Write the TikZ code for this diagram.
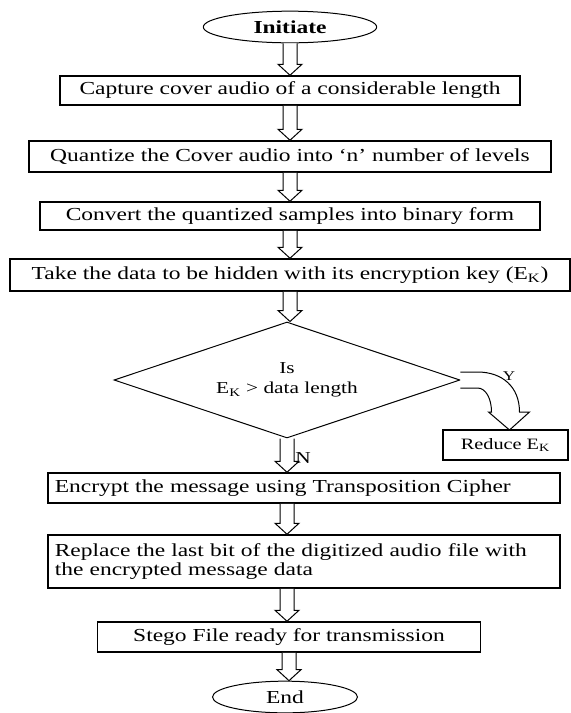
\documentclass[tikz,border=0pt]{standalone}
\usepackage{fontspec}
\setmainfont{Liberation Serif}[FakeStretch=1.28]
\usetikzlibrary{calc,shapes.geometric,positioning}

\newcommand{\ek}{E\textsubscript{K}}

\tikzset{
	blockflow/.style={draw,line width=0.6pt,fill=white,
		to path={let \p1=(\tikztostart), \p2=(\tikztotarget) in
			(\x1-4.2pt,\y1) -- (\x1-4.2pt,\y2+6.6pt) -- (\x1-7.2pt,\y2+6.6pt) -- (\x1,\y2)
			-- (\x1+7.2pt,\y2+6.6pt) -- (\x1+4.2pt,\y2+6.6pt) -- (\x1+4.2pt,\y1)}}
}

\begin{document}
\begin{tikzpicture}[x=0.6pt,y=-0.6pt,
	stepbox/.style={rectangle,draw,line width=0.9pt,inner sep=1pt,font=\fontsize{11}{11}\selectfont},
	terminal/.style={ellipse,draw,line width=0.6pt,inner sep=0pt,font=\fontsize{11}{11}\selectfont}
	]
	\useasboundingbox (0,0) rectangle (570,713);

	\begin{scope}
		\node[terminal,minimum width=104pt,minimum height=19pt] (start) at (290,27) {\textbf{Initiate}};
		\node[stepbox,minimum width=276pt,minimum height=17.4pt] (capture) at (290,90.5) {Capture cover audio of a considerable length};
		\node[stepbox,minimum width=313pt,minimum height=18.6pt] (quant) at (290,156.5) {Quantize the Cover audio into `n' number of levels};
		\node[stepbox,minimum width=300pt,minimum height=16.8pt] (binary) at (290,216) {Convert the quantized samples into binary form};
		\node[stepbox,minimum width=336pt,minimum height=19.2pt] (key) at (290,275) {Take the data to be hidden with its encryption key (\ek)};
		\node[diamond,aspect=3,draw,line width=0.6pt,inner sep=0pt,minimum width=207.6pt,minimum height=69.6pt,align=center,font=\fontsize{10}{12}\selectfont] (check) at (287,380) {Is\\\ek{} > data length};
		\node[stepbox,minimum width=75pt,minimum height=18pt,font=\fontsize{9.5}{10}\selectfont] (reduce) at (505.5,445) {Reduce \ek};
		\node[stepbox,minimum width=307pt,minimum height=18pt,text width=299pt,align=left] (encrypt) at (304,488) {Encrypt the message using Transposition Cipher};
		\node[stepbox,minimum width=307pt,minimum height=31.8pt,text width=299pt,align=left] (replace) at (304,561.5) {Replace the last bit of the digitized audio file with\\the encrypted message data};
		\node[stepbox,minimum width=230pt,minimum height=18pt] (stego) at (289,637) {Stego File ready for transmission};
		\node[terminal,minimum width=87pt,minimum height=19pt] (stop) at (285,697) {End};
	\end{scope}

	\begin{scope}
		\path[blockflow] (start.south) to (capture.north);
		\path[blockflow] (capture.south) to (quant.north);
		\path[blockflow] (quant.south) to (binary.north);
		\path[blockflow] (binary.south) to (key.north);
		\path[blockflow] (key.south) to (check.north);
		\path[blockflow] (check.south) to (check.south |- encrypt.north);
		\path[blockflow] (check.south |- encrypt.south) to (check.south |- replace.north);
		\path[blockflow] (check.south |- replace.south) to (check.south |- stego.north);
		\path[blockflow] (stego.south) to (stego.south |- stop.north);
		\node[font=\fontsize{10}{10}\selectfont] (no) at (303,458) {N};

		% yes branch, bent block arrow
		\draw[line width=0.6pt,fill=white] (check.east) ++(0,-8) -- ++(17,0)
			.. controls +(25,0) and +(0,-25) .. ++(42,40) -- ++(10,0) -- ++(-20,18)
			-- ++(-21,-18) -- ++(3,0) .. controls +(0,-14) and +(8,0) .. ++(-14,-24) -- ++(-17,0);
		\node[font=\fontsize{8}{8}\selectfont] (yes) at (509,376) {Y};
	\end{scope}
\end{tikzpicture}
\end{document}
